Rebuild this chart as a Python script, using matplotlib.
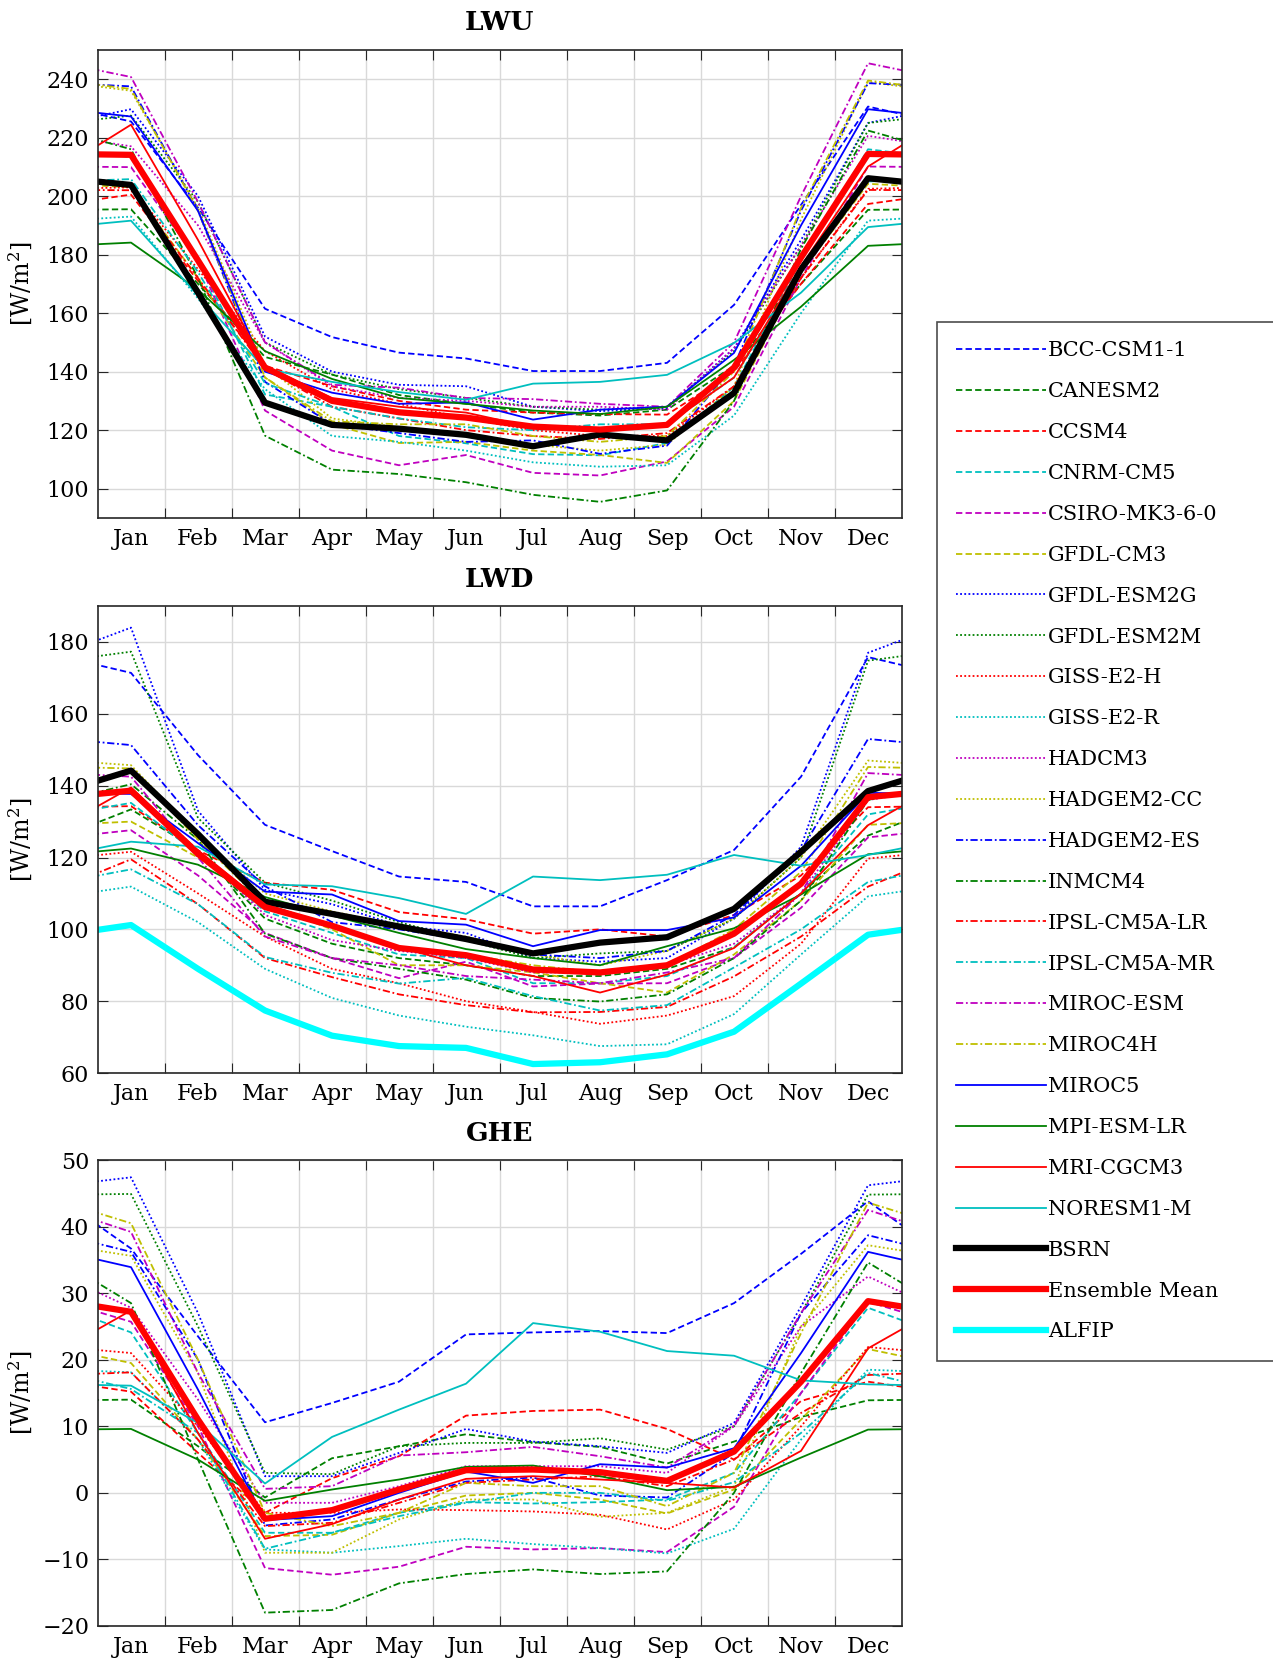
import matplotlib
matplotlib.use('Agg')
import matplotlib.pyplot as plt
import numpy as np

months = ['Jan', 'Feb', 'Mar', 'Apr', 'May', 'Jun', 'Jul', 'Aug', 'Sep', 'Oct', 'Nov', 'Dec']

models = ['BCC-CSM1-1', 'CANESM2', 'CCSM4', 'CNRM-CM5', 'CSIRO-MK3-6-0', 'GFDL-CM3',
          'GFDL-ESM2G', 'GFDL-ESM2M', 'GISS-E2-H', 'GISS-E2-R', 'HADCM3', 'HADGEM2-CC',
          'HADGEM2-ES', 'INMCM4', 'IPSL-CM5A-LR', 'IPSL-CM5A-MR', 'MIROC-ESM', 'MIROC4H',
          'MIROC5', 'MPI-ESM-LR', 'MRI-CGCM3', 'NORESM1-M']

# monthly values per model, Jan..Dec
lwu = [
    [225.5, 196, 161.5, 151.8, 146.5, 144.5, 140.2, 140.2, 143, 162.8, 197, 230.6],
    [195.5, 170, 145, 139, 132, 129, 126, 125, 127, 142, 170, 195.3],
    [200.5, 171, 142, 135, 130, 127, 126, 125.5, 125.3, 140, 170, 197.3],
    [213.3, 178, 132.2, 128, 118, 115.5, 111.8, 111.4, 115.6, 134.8, 178, 216],
    [209.9, 178, 126.7, 113, 108, 111.5, 105.4, 104.5, 109.3, 128, 172, 210.1],
    [203, 172, 138, 122, 115.6, 116, 113, 111.5, 108.8, 130, 174, 204.2],
    [229.7, 200, 152, 140, 135.5, 135, 128, 126.5, 127.5, 148, 185, 225],
    [227.5, 198, 150, 139, 134, 131, 128, 127, 128, 147, 183, 225],
    [203, 175, 147, 134, 129, 124, 120, 118, 118, 135, 172, 202.5],
    [193, 165, 134, 118, 116, 113, 109, 107.5, 108, 125, 160, 191.6],
    [217, 190, 150, 135, 131, 130, 128, 128, 127, 148, 183, 220.6],
    [236, 196, 142, 124, 121, 119, 115, 113, 115, 135, 192, 239],
    [237.5, 195, 136.5, 122, 119, 116, 116.5, 111.9, 114.7, 142, 195, 238.6],
    [216, 172, 118.1, 106.5, 105, 102.2, 97.9, 95.5, 99.4, 130, 182, 222.4],
    [202, 172, 141, 128, 124, 120, 118, 117, 119, 135, 172, 202.1],
    [205.8, 174, 136, 128, 124, 121, 120, 122, 122, 138, 175, 205],
    [240.7, 198, 150, 135.5, 134.5, 131, 130.6, 129, 128, 150, 200, 245.4],
    [236.6, 195, 138, 123, 122, 122, 118, 116, 118, 140, 196, 239.5],
    [227.2, 195, 140, 132.8, 129, 129.5, 123.6, 127, 128, 146.4, 190, 229.7],
    [184.1, 168, 147, 137.5, 131, 129, 126.7, 125.5, 128, 144, 162.2, 183],
    [224.4, 185, 142, 131, 128, 126, 121, 120, 122, 138, 176, 210.1],
    [191.6, 166, 141, 136.5, 133, 130.4, 135.9, 136.5, 138.9, 149.8, 167, 189.4],
]

lwd = [
    [171.4, 148.5, 129.1, 121.8, 114.7, 113.2, 106.4, 106.4, 113.7, 122.1, 142.5, 175.8],
    [133.4, 122, 103, 96, 92, 90, 87, 87, 89, 95, 110, 126.1],
    [134.3, 122, 113, 111, 104.8, 102.8, 98.8, 100, 98, 104, 115, 134],
    [135.2, 121, 105, 99, 93, 92, 85, 85, 87, 95, 110, 132],
    [127.6, 115, 99, 92, 86.4, 91, 84.1, 84.9, 85, 92, 106, 125.6],
    [130, 120, 107, 100, 90, 90, 88, 85, 82.4, 93, 108, 129.1],
    [184, 133, 111, 107, 101, 99, 92, 91, 92, 103, 123, 177],
    [177.3, 131, 113, 108, 102, 97, 92, 93.3, 94, 103, 120, 174.8],
    [121.6, 110, 98, 89, 85, 80, 77, 73.7, 76, 81.4, 96, 119.7],
    [111.9, 102, 89, 80.9, 76, 72.9, 70.5, 67.5, 68, 76.4, 93, 109.2],
    [139, 122, 104, 97, 94, 92, 88, 88, 90, 96, 110, 136],
    [145.7, 126, 110, 105, 101, 98, 93, 90, 94, 103, 120, 147],
    [151.3, 129, 112, 102, 100, 97, 93, 92, 94, 104, 122, 153],
    [140.4, 125, 98.8, 92, 89, 86, 80.9, 79.9, 81.9, 92, 108, 136],
    [119.5, 107, 92, 86.7, 81.9, 78.9, 76.9, 77, 78.4, 86.9, 98, 111.9],
    [116.7, 107, 92.3, 87.9, 84.9, 86.5, 81.4, 77.4, 78.9, 89.4, 100, 113.2],
    [142.5, 120, 98, 92, 90, 87, 86, 85, 88, 92, 110, 143.5],
    [144.8, 125, 107, 101, 95, 93, 90, 88, 90, 100, 116, 145.2],
    [137.7, 124, 110.5, 109.7, 102.3, 101.3, 95.3, 99.8, 99.8, 103.3, 117.7, 138],
    [122.5, 118, 109, 103.8, 99, 94.5, 92, 90, 95.3, 100.3, 109.7, 120.9],
    [139.5, 122, 107, 101, 95, 90, 87, 82.4, 87.4, 94.8, 110, 129],
    [124.4, 123, 112.5, 112, 108.7, 104.3, 114.7, 113.7, 115.2, 120.7, 117.7, 120.7],
]

ghe = [
    [36.7, 23.5, 10.6, 13.5, 16.7, 23.8, 24.1, 24.3, 24.0, 28.5, 35.9, 43.8],
    [14, 7, -0.7, 5.2, 7, 8.8, 7.6, 6.9, 4.4, 7.7, 11.4, 13.9],
    [15.2, 6, -3, 2.2, 5.5, 11.6, 12.3, 12.5, 9.6, 5, 13.8, 16.7],
    [24.1, 9, -6, -6, -3, -1.4, -1.6, -1.4, -1, 3, 15, 27.8],
    [25.7, 10, -11.3, -12.3, -11.1, -8.1, -8.5, -8.3, -8.9, -2.1, 15, 28.7],
    [19.5, 8, -6.5, -6.3, -3, -0.4, 0, -1, -3.1, 0.5, 11, 21.6],
    [47.4, 27, 2.5, 2.5, 6, 9.6, 7.7, 7, 6, 10.5, 28, 46.2],
    [44.9, 25, 3, 2.8, 7, 7.5, 7.5, 8.2, 6.5, 10, 27, 44.8],
    [21, 10, -3, -3, -2.5, -2.6, -2.8, -3.3, -5.5, -1, 10, 21.9],
    [18.1, 8, -8.5, -9, -8, -6.9, -7.7, -8.3, -9.1, -5.4, 8, 18.5],
    [27.8, 14, -1.5, -1.5, 1, 4, 4, 4, 3, 10, 25, 32.5],
    [35.6, 18, -9, -9, -4, -1, -1, -3.6, -3, 1, 25, 37.2],
    [36.2, 20, -4.9, -4, -1, 1.7, 2.3, -0.4, -0.7, 6, 27, 38.7],
    [28.5, 5, -18, -17.6, -13.6, -12.2, -11.5, -12.2, -11.8, 0, 18, 34.6],
    [18.1, 8, -5, -4.5, -1.5, 1.5, 2, 2.5, 1, 5, 12, 17.7],
    [15.6, 9, -8.4, -6, -3.5, -1.5, 0, 0, -1.2, 1.6, 9, 18],
    [39.2, 18, 0.6, 1, 5.6, 6.1, 6.9, 5.5, 3.8, 10.1, 27, 42.5],
    [40.5, 20, -3, -5, -3, 1.5, 1, 1, -2, 3, 24, 43.6],
    [33.9, 15.5, -4.1, -3.5, 0, 3.2, 1.5, 4.3, 3.8, 6.7, 21, 36.2],
    [9.6, 5, -1.2, 0.5, 2, 3.9, 4.1, 2.5, 0.4, 0.9, 5.3, 9.5],
    [27.4, 9, -6.9, -4.7, -1, 2.1, 2.5, 2, 1.5, 0.8, 6.3, 21.7],
    [16.1, 10.5, 1.4, 8.4, 12.5, 16.4, 25.5, 24.2, 21.3, 20.6, 16.9, 16.3],
]

bsrn_lwu = [203.8, 167, 129.4, 121.8, 120.5, 118.4, 114.5, 118.5, 116.5, 132.7, 175, 206.1]
bsrn_lwd = [144.2, 126.5, 107.7, 104.3, 100.8, 97.3, 93.3, 96.3, 97.8, 105.7, 121.6, 138.5]
ens_lwu = [214.1, 178, 141.4, 130, 126.1, 124.3, 121.2, 120.2, 121.8, 141.4, 179, 214.4]
ens_lwd = [138.6, 121, 106.2, 101, 94.8, 92.8, 88.8, 88, 90, 98.8, 112.7, 136.8]
ens_ghe = [27.2, 11, -3.9, -2.6, 0.5, 3.4, 3.5, 3.1, 1.8, 6.2, 16.7, 28.8]
alfip_lwd = [101.2, 89, 77.4, 70.4, 67.5, 67, 62.5, 63, 65.2, 71.5, 84.9, 98.5]

# matlab-ish colour / style cycle
cols = [(0, 0, 1), (0, 0.5, 0), (1, 0, 0), (0, 0.75, 0.75), (0.75, 0, 0.75), (0.75, 0.75, 0)]
dashed = (0, (3.5, 1.8))
dotted = (0, (1, 1.3))
dashdot = (0, (4, 1.5, 1, 1.5))
styles = [dashed] * 6 + [dotted] * 6 + [dashdot] * 6 + ['-'] * 4

plt.rcParams['font.family'] = ['DejaVu Serif']
plt.rcParams['mathtext.fontset'] = 'dejavuserif'

fig = plt.figure(figsize=(12.73, 16.6), dpi=100)

x = np.arange(0, 14)


def wrap(v):
    # cyclic: previous Dec and next Jan, clipped by xlim
    return np.r_[v[-1], v, v[0]]


def style_axis(ax, title, ylim, yticks):
    ax.set_xlim(0.5, 12.5)
    ax.set_ylim(*ylim)
    ax.set_yticks(yticks)
    ax.set_xticks(np.arange(1.5, 12, 1))
    ax.set_xticks(np.arange(1, 13), minor=True)
    ax.set_xticklabels([], minor=False)
    ax.set_xticklabels(months, minor=True)
    ax.tick_params(axis='x', which='minor', length=0, labelsize=16, pad=7)
    ax.tick_params(axis='x', which='major', direction='in', length=7, top=True, color='0.15')
    ax.tick_params(axis='y', direction='in', length=7, right=True, labelsize=16, pad=6,
                   color='0.15')
    ax.grid(True, which='major', color='0.85', lw=1)
    ax.set_axisbelow(True)
    for s in ax.spines.values():
        s.set_color('0.15')
        s.set_linewidth(1.2)
    ax.set_title(title, fontsize=19, fontweight='bold', pad=14)
    ax.set_ylabel('[W/m$^{2}$]', fontsize=17)
    ax.yaxis.set_label_coords(-0.078, 0.5)


L, W = 0.0766, 0.6316
ax1 = fig.add_axes([L, 0.688, W, 0.282])
ax2 = fig.add_axes([L, 0.3536, W, 0.2813])
ax3 = fig.add_axes([L, 0.0205, W, 0.2807])

for ax, data in [(ax1, lwu), (ax2, lwd), (ax3, ghe)]:
    for i, name in enumerate(models):
        ax.plot(x, wrap(data[i]), color=cols[i % 6], ls=styles[i], lw=1.3, label=name)

ax1.plot(x, wrap(bsrn_lwu), color='k', lw=4.5, label='BSRN')
ax1.plot(x, wrap(ens_lwu), color='r', lw=4.5, label='Ensemble Mean')
ax2.plot(x, wrap(bsrn_lwd), color='k', lw=4.5, label='BSRN')
ax2.plot(x, wrap(ens_lwd), color='r', lw=4.5, label='Ensemble Mean')
ax2.plot(x, wrap(alfip_lwd), color=(0, 1, 1), lw=4.5, label='ALFIP')
ax3.plot(x, wrap(ens_ghe), color='r', lw=4.5, label='Ensemble Mean')

style_axis(ax1, 'LWU', (90, 250), np.arange(100, 241, 20))
style_axis(ax2, 'LWD', (60, 190), np.arange(60, 181, 20))
style_axis(ax3, 'GHE', (-20, 50), np.arange(-20, 51, 10))

handles, labels = ax2.get_legend_handles_labels()
leg = fig.legend(handles, labels, loc='upper left', bbox_to_anchor=(0.7275, 0.8125, 0.3, 0),
                 mode='expand', fontsize=15, handlelength=4.3, handletextpad=0.1,
                 labelspacing=1.05, borderpad=0.95, fancybox=False, edgecolor='0.3',
                 framealpha=1)
leg.get_frame().set_linewidth(1.2)

fig.savefig('out.png', dpi=100)
